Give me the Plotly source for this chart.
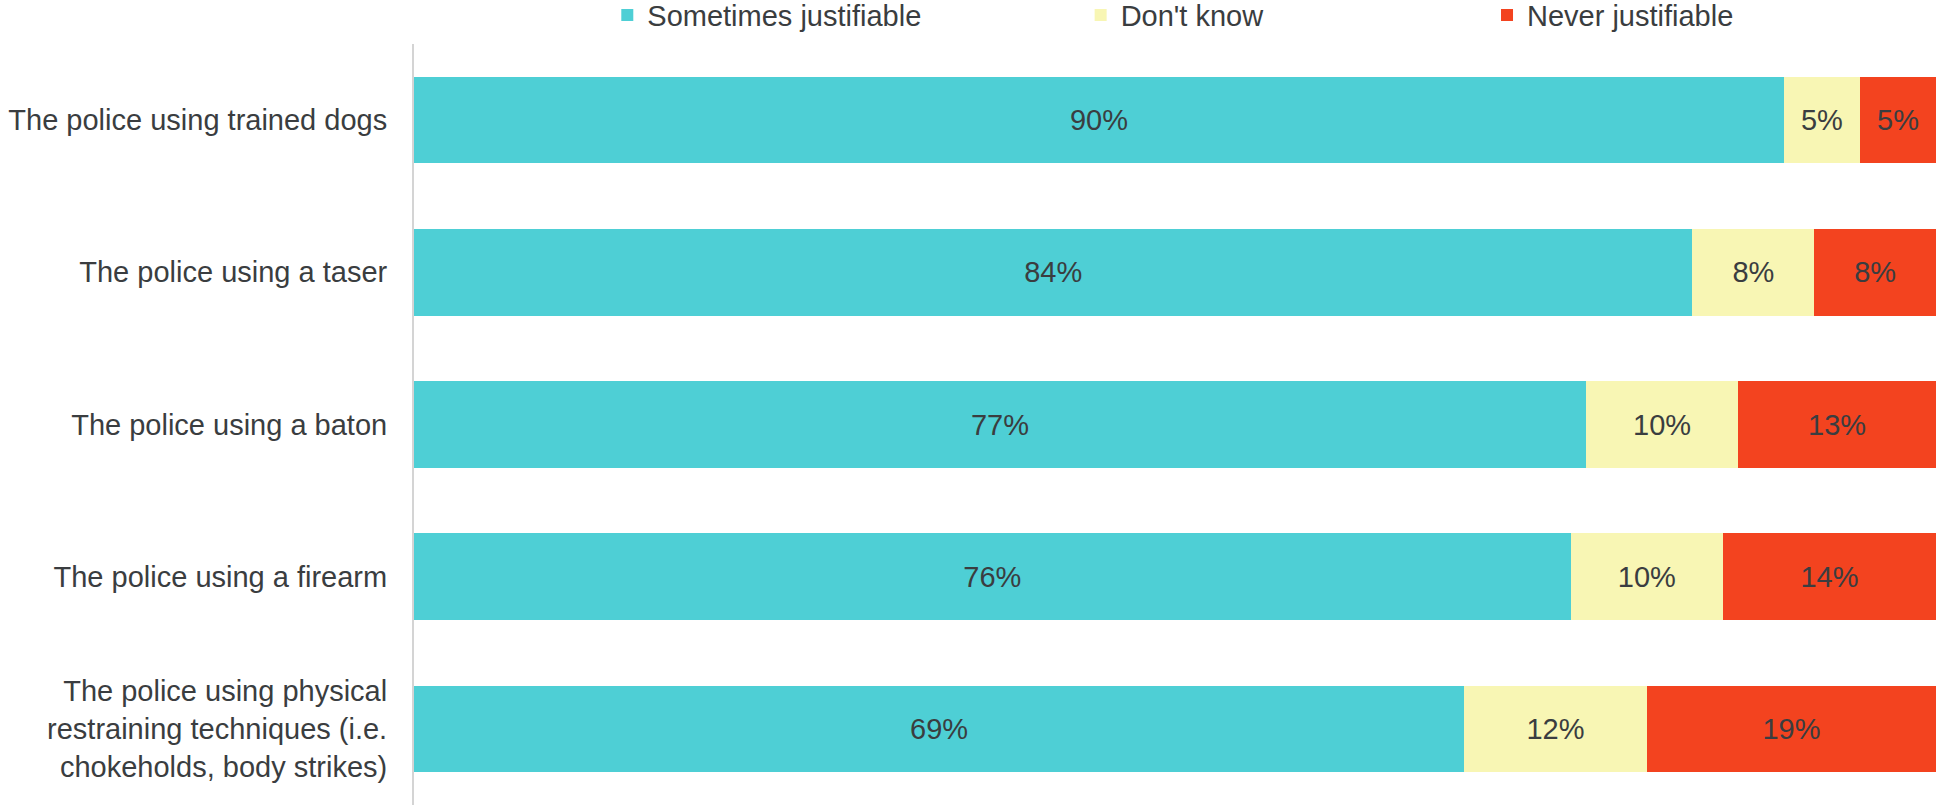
import plotly.graph_objects as go

categories = [
    "The police using trained dogs",
    "The police using a taser",
    "The police using a baton",
    "The police using a firearm",
    "The police using physical<br>restraining techniques (i.e.<br>chokeholds, body strikes)",
]
sometimes = [90, 84, 77, 76, 69]
dont_know = [5, 8, 10, 10, 12]
never = [5, 8, 13, 14, 19]

series_names = ["Sometimes justifiable", "Don't know", "Never justifiable"]
series_values = [sometimes, dont_know, never]
colors = ["#4ECFD5", "#F8F6B4", "#F3431F"]
legend_ids = ["legend", "legend2", "legend3"]

FONT = "Liberation Sans, Arial, sans-serif"
TXT = "#3a3d40"
FS = 29

fig = go.Figure()
for name, vals, col, lg in zip(series_names, series_values, colors, legend_ids):
    fig.add_trace(go.Bar(
        y=categories, x=vals, name=name, orientation="h",
        marker=dict(color=col, line=dict(width=0)),
        text=[f"{v}%" for v in vals], textposition="inside",
        insidetextanchor="middle", constraintext="none",
        textfont=dict(family=FONT, size=FS, color=TXT),
        legend=lg, showlegend=True, hoverinfo="skip",
    ))

leg_common = dict(orientation="h", yanchor="middle", xanchor="left", y=1.038,
                  font=dict(family=FONT, size=FS, color=TXT),
                  bgcolor="rgba(0,0,0,0)", itemwidth=30, visible=True)
fig.update_layout(
    barmode="stack",
    bargap=0.43,
    showlegend=True,
    width=1936, height=805,
    margin=dict(l=414, r=0, t=44, b=0, autoexpand=False),
    paper_bgcolor="white", plot_bgcolor="white",
    font=dict(family=FONT, size=FS, color=TXT),
    legend=dict(x=0.127, **leg_common),
    legend2=dict(x=0.438, **leg_common),
    legend3=dict(x=0.705, **leg_common),
    xaxis=dict(range=[0, 100], visible=False, fixedrange=True),
    yaxis=dict(autorange="reversed", showline=True, linecolor="#d4d4d4", linewidth=2,
               ticks="", ticklabelstandoff=19, showgrid=False,
               tickfont=dict(family=FONT, size=FS, color=TXT)),
)
fig.write_html("out.html",
               config={"displayModeBar": False, "staticPlot": True},
               post_script="document.body.style.margin='0';document.body.style.overflow='hidden';")
